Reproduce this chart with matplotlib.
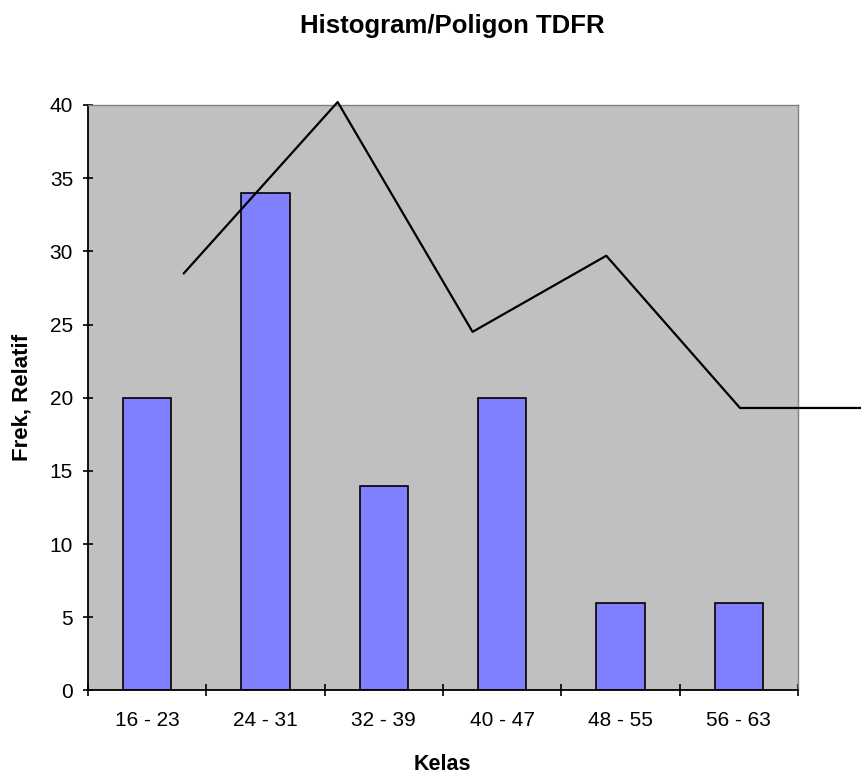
import matplotlib
matplotlib.use('Agg')
import matplotlib.pyplot as plt
import numpy as np

plt.rcParams['font.family'] = ['Liberation Sans', 'DejaVu Sans']

# data
kelas = ['16 - 23', '24 - 31', '32 - 39', '40 - 47', '48 - 55', '56 - 63']
frek = [20, 34, 14, 20, 6, 6]
# polygon line (drawn over the bars, positions in category units)
poly_x = [0.31, 1.61, 2.75, 3.88, 5.01, 6.10]
poly_y = [28.5, 40.2, 24.5, 29.7, 19.3, 19.3]

fig = plt.figure(figsize=(8.61, 7.74), dpi=100)
ax = fig.add_axes([0.1022, 0.1079, 0.8246, 0.7565])
ax.set_facecolor('#C0C0C0')

pos = np.arange(len(kelas))
ax.bar(pos, frek, width=0.41, color='#8080FF', edgecolor='black', linewidth=1.2, zorder=2)
ax.plot(poly_x, poly_y, color='black', lw=1.6, clip_on=False, zorder=3)

ax.set_xlim(-0.5, len(kelas) - 0.5)
ax.set_ylim(0, 40)

# x ticks: labels at centres, marks at class boundaries
ax.set_xticks(pos)
ax.set_xticklabels(kelas, fontsize=15)
ax.tick_params(axis='x', which='major', length=0, pad=15)
ax.set_xticks(np.arange(len(kelas) + 1) - 0.5, minor=True)
ax.tick_params(axis='x', which='minor', direction='inout', length=8, width=1.2)

ax.set_yticks(np.arange(0, 41, 5))
ax.tick_params(axis='y', direction='inout', length=7.5, width=1.2, labelsize=15, pad=7)

for s in ['left', 'bottom']:
    ax.spines[s].set_color('black')
    ax.spines[s].set_linewidth(1.3)
for s in ['top', 'right']:
    ax.spines[s].set_color('#808080')
    ax.spines[s].set_linewidth(1.0)

fig.text(0.5256, 1 - 33 / 774, 'Histogram/Poligon TDFR', ha='center', va='baseline',
         fontsize=18.5, weight='bold')
fig.text(442 / 861, 1 - 765 / 774, 'Kelas', ha='center', va='center', fontsize=15.5, weight='bold')
fig.text(22 / 861, 1 - 397 / 774, 'Frek, Relatif', ha='center', va='center', rotation=90,
         fontsize=16, weight='bold')

fig.savefig('out.png', dpi=100, facecolor='white')
